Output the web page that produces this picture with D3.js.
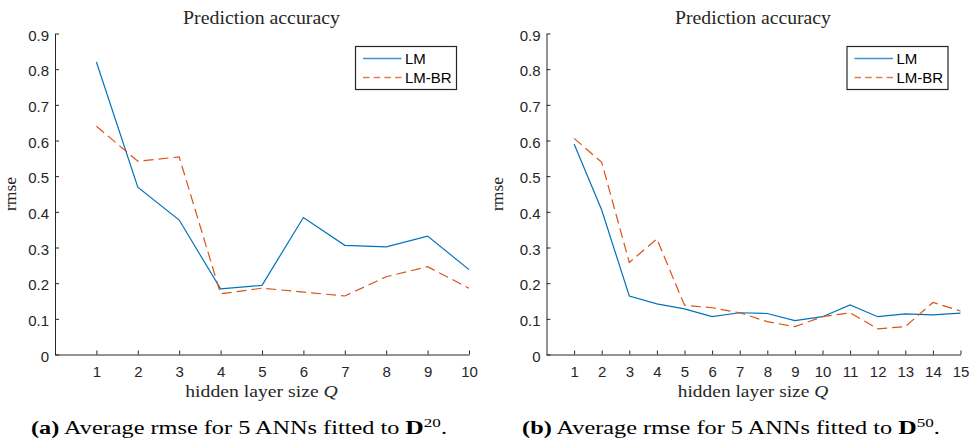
<!DOCTYPE html>
<html>
<head>
<meta charset="utf-8">
<script src="https://cdn.jsdelivr.net/npm/d3@7"></script>
<style>
  html, body { margin: 0; padding: 0; background: #fff; }
  svg { display: block; }
  .tick text { font-family: "Liberation Sans", Arial, sans-serif; font-size: 15px; fill: #262626; }
  .serif { font-family: "Liberation Serif", "Times New Roman", serif; fill: #262626; }
</style>
</head>
<body>
<svg id="chart" width="974" height="446"></svg>
<script>
// ---- data ----
const seriesNames = ["LM", "LM-BR"];
const yTicks = [0, 0.1, 0.2, 0.3, 0.4, 0.5, 0.6, 0.7, 0.8, 0.9];

const qA = [1, 2, 3, 4, 5, 6, 7, 8, 9, 10];
const lmA   = [0.820, 0.469, 0.377, 0.184, 0.194, 0.384, 0.306, 0.302, 0.332, 0.238];
const lmbrA = [0.640, 0.542, 0.554, 0.170, 0.186, 0.175, 0.164, 0.218, 0.246, 0.186];

const qB = [1, 2, 3, 4, 5, 6, 7, 8, 9, 10, 11, 12, 13, 14, 15];
const lmB   = [0.590, 0.405, 0.164, 0.142, 0.128, 0.106, 0.117, 0.115, 0.095, 0.106, 0.139, 0.106, 0.114, 0.111, 0.116];
const lmbrB = [0.606, 0.539, 0.258, 0.324, 0.138, 0.131, 0.117, 0.092, 0.078, 0.106, 0.117, 0.072, 0.078, 0.146, 0.122];

const titleText = "Prediction accuracy";
const xLabelText = "hidden layer size ";
const yLabelText = "rmse";
const captionA = {tag: "(a)", body: " Average rmse for 5 ANNs fitted to ", sup: "20"};
const captionB = {tag: "(b)", body: " Average rmse for 5 ANNs fitted to ", sup: "50"};

const colors = ["#0072BD", "#D95319"];
const axisColor = "#262626";

const svg = d3.select("#chart");

// stretch a text horizontally so that it spans [left, right]
function fitWidth(gSel, textSel, left, right, baseline) {
  const w = textSel.node().getBBox().width;
  const sx = (right - left) / w;
  gSel.attr("transform", `translate(${(left + right) / 2},${baseline}) scale(${sx},1)`);
}

function panel(cfg) {
  const g = svg.append("g");
  const x = d3.scaleLinear().domain([0, cfg.xmax]).range([cfg.x0, cfg.x1]);
  const y = d3.scaleLinear().domain([0, 0.9]).range([354.5, 33.5]);

  // axes
  const xAxis = d3.axisBottom(x).tickValues(cfg.q).tickFormat(d3.format("d"))
    .tickSizeInner(-4).tickSizeOuter(0).tickPadding(11.5);
  const yAxis = d3.axisLeft(y).tickValues(yTicks)
    .tickFormat(d => d === 0 ? "0" : d.toFixed(1))
    .tickSizeInner(-4).tickSizeOuter(0).tickPadding(6);

  const gx = g.append("g").attr("transform", `translate(0,${y(0)})`).call(xAxis);
  const gy = g.append("g").attr("transform", `translate(${x(0)},0)`).call(yAxis);
  [gx, gy].forEach(a => {
    a.select(".domain").attr("stroke", axisColor).attr("stroke-width", 1);
    a.selectAll(".tick line").attr("stroke", axisColor).attr("stroke-width", 1);
    a.selectAll(".tick text").attr("fill", axisColor);
  });
  gy.selectAll(".tick text").attr("dy", "0.45em");

  // lines
  const line = d3.line().x(d => x(d[0])).y(d => y(d[1]));
  const s1 = cfg.q.map((q, i) => [q, cfg.lm[i]]);
  const s2 = cfg.q.map((q, i) => [q, cfg.lmbr[i]]);
  g.append("path").datum(s1).attr("d", line)
    .attr("fill", "none").attr("stroke", colors[0]).attr("stroke-width", 1.2);
  g.append("path").datum(s2).attr("d", line)
    .attr("fill", "none").attr("stroke", colors[1]).attr("stroke-width", 1.2)
    .attr("stroke-dasharray", "10,5");

  // title
  const tg = g.append("g");
  const tt = tg.append("text").attr("class", "serif").attr("text-anchor", "middle")
    .style("font-size", "18px").text(titleText);
  fitWidth(tg, tt, cfg.title[0], cfg.title[1], 23.5);

  // x label
  const xg = g.append("g");
  const xl = xg.append("text").attr("class", "serif").attr("text-anchor", "middle")
    .style("font-size", "17.5px");
  xl.append("tspan").text(xLabelText);
  xl.append("tspan").style("font-style", "italic").text("Q");
  fitWidth(xg, xl, cfg.xlab[0], cfg.xlab[1], 396.5);

  // y label
  g.append("text").attr("class", "serif")
    .attr("transform", `translate(${cfg.ylx},194) rotate(-90)`)
    .attr("text-anchor", "middle").style("font-size", "17.5px")
    .text(yLabelText);

  // legend
  const lg = g.append("g");
  lg.append("rect").attr("x", cfg.lx).attr("y", 46.5).attr("width", 101).attr("height", 43)
    .attr("fill", "#fff").attr("stroke", axisColor).attr("stroke-width", 1.2);
  seriesNames.forEach((name, i) => {
    const ly = 58.5 + i * 19;
    lg.append("line").attr("x1", cfg.lx + 7.5).attr("x2", cfg.lx + 46)
      .attr("y1", ly).attr("y2", ly)
      .attr("stroke", colors[i]).attr("stroke-width", 1.6).attr("stroke-opacity", 0.75)
      .attr("stroke-dasharray", i === 1 ? "6.5,4.2" : null);
    lg.append("text").attr("x", cfg.lx + 49.5).attr("y", ly + 5.5)
      .style("font-family", "'Liberation Sans', Arial, sans-serif").style("font-size", "15px")
      .attr("fill", "#000").text(name);
  });

  // caption
  const cg = g.append("g");
  const cap = cg.append("text").attr("text-anchor", "middle")
    .style("font-family", "'Liberation Serif', 'Times New Roman', serif")
    .style("font-size", "18.5px").attr("fill", "#000");
  cap.append("tspan").style("font-weight", "bold").text(cfg.cap.tag);
  cap.append("tspan").text(cfg.cap.body);
  cap.append("tspan").style("font-weight", "bold").style("font-size", "19.5px").text("D");
  cap.append("tspan").attr("dy", -7).style("font-size", "13px").text(cfg.cap.sup);
  cap.append("tspan").attr("dy", 7).text(".");
  fitWidth(cg, cap, cfg.capx[0], cfg.capx[1], 433.5);
}

panel({x0: 55, x1: 469, xmax: 10, q: qA, lm: lmA, lmbr: lmbrA, lx: 355.5, ylx: 16,
       title: [183, 340], xlab: [185, 338], capx: [31, 447], cap: captionA});
panel({x0: 546.5, x1: 960.5, xmax: 15, q: qB, lm: lmB, lmbr: lmbrB, lx: 847, ylx: 503,
       title: [675, 831], xlab: [677.5, 828.5], capx: [522, 940], cap: captionB});
</script>
</body>
</html>
